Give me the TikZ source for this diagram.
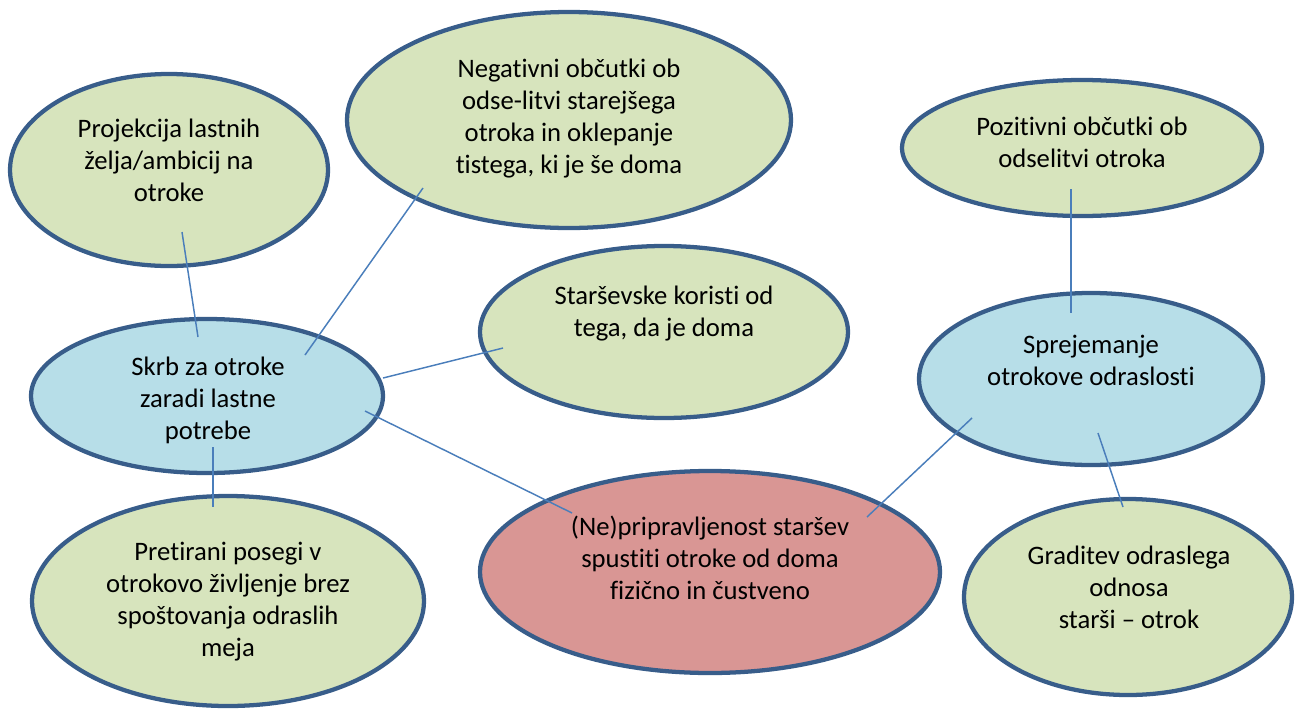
\documentclass[tikz,border=0pt]{standalone}
\usepackage{fontspec}
\setmainfont[RawFeature={-liga;-clig;-calt;-rlig;-dlig}]{Carlito}
\usepackage{xcolor}
\definecolor{ggreen}{HTML}{D7E4BD}
\definecolor{bblue}{HTML}{B7DEE8}
\definecolor{rred}{HTML}{D99694}
\definecolor{bborder}{HTML}{385D8A}
\definecolor{llink}{HTML}{4A7EBB}
\usetikzlibrary{calc}
\usetikzlibrary{shapes.geometric}

\begin{document}
\begin{tikzpicture}[x=0.75pt,y=-0.75pt,
		bubble/.style n args={3}{ellipse, draw=bborder, line width=3.2pt, fill=#1, minimum width=#2*1.5pt, minimum height=#3*1.5pt, inner sep=0pt},
		txt/.style={align=center, inner sep=0pt, font=\fontsize{20}{24}\selectfont},
		link/.style={llink, line width=1.1pt}]
				\useasboundingbox (0,0) rectangle (1297,711);
				% ellipses
				\node[bubble={ggreen}{159}{96}] (proj) at (169,170) {};
				\node[bubble={ggreen}{222}{108}] (neg) at (569,120) {};
				\node[bubble={ggreen}{180}{68}] (poz) at (1082,148) {};
				\node[bubble={ggreen}{184}{86}] (stars) at (664,332) {};
				\node[bubble={bblue}{176}{77}] (skrb) at (207,396) {};
				\node[bubble={bblue}{172}{86}] (sprej) at (1091,379) {};
				\node[bubble={rred}{230}{101}] (nepr) at (710,572) {};
				\node[bubble={ggreen}{196}{105}] (pret) at (228,601) {};
				\node[bubble={ggreen}{164}{98}] (grad) at (1128,597) {};
				% texts
				\node[txt] (projt) at (169,160) {Projekcija lastnih\\želja/ambicij na\\otroke};
				\node[txt] (negt) at (569,119) {Negativni občutki ob\\odse-litvi starejšega\\otroka in oklepanje\\tistega, ki je še doma};
				\node[txt] (pozt) at (1082,142) {Pozitivni občutki ob\\odselitvi otroka};
				\node[txt] (starst) at (664,314) {Starševske koristi od\\tega, da je doma};
				\node[txt] (skrbt) at (208,400) {Skrb za otroke\\zaradi lastne\\potrebe};
				\node[txt] (sprejt) at (1091,360) {Sprejemanje\\otrokove odraslosti};
				\node[txt] (neprt) at (710,558) {(Ne)pripravljenost staršev\\spustiti otroke od doma\\fizično in čustveno};
				\node[txt] (prett) at (228,602) {Pretirani posegi v\\otrokovo življenje brez\\spoštovanja odraslih\\meja};
				\node[txt] (gradt) at (1129,587) {Graditev odraslega\\odnosa\\starši -- otrok};
				% connectors
				\draw[link] ($(proj)+(13,62)$) -- ($(skrb)+(-9,-59)$);
				\draw[link] ($(neg)+(-146,68)$) -- ($(skrb)+(98,-41)$);
				\draw[link] ($(skrb)+(176,-18)$) -- ($(stars)+(-161,16)$);
				\draw[link] ($(skrb)+(158,15)$) -- ($(nepr)+(-138,-59)$);
				\draw[link] ($(skrb)+(6,51)$) -- ($(pret)+(-15,-94)$);
				\draw[link] ($(poz)+(-11,41)$) -- ($(sprej)+(-20,-66)$);
				\draw[link] ($(sprej)+(-119,39)$) -- ($(nepr)+(157,-55)$);
				\draw[link] ($(sprej)+(7,54)$) -- ($(grad)+(-5,-90)$);
			\end{tikzpicture}
\end{document}
